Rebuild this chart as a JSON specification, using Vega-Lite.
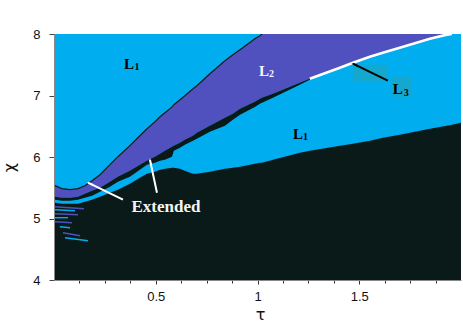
{
  "$schema": "https://vega.github.io/schema/vega-lite/v6.json",
  "width": 407,
  "height": 246,
  "autosize": "none",
  "padding": {"left": 54, "top": 34, "right": 2, "bottom": 43},
  "background": "white",
  "config": {
    "view": {"stroke": null, "fill": "#00AEEF"},
    "axis": {"grid": false, "labelFont": "Liberation Sans", "labelFontSize": 13, "labelColor": "#111111", "tickColor": "#444444", "domainColor": "#888888", "titleFont": "DejaVu Sans", "titleFontWeight": "normal", "titleFontSize": 16, "titleColor": "#111111"}
  },
  "datasets": {
    "curves": [
      {"x": 0, "t": 5.533, "b": 5.355, "d": 5.306, "e": 5.257},
      {"x": 0.005, "t": 5.533, "b": 5.355, "d": 5.306, "e": 5.257},
      {"x": 0.039, "t": 5.485, "b": 5.338, "d": 5.29, "e": 5.241},
      {"x": 0.079, "t": 5.468, "b": 5.338, "d": 5.29, "e": 5.241},
      {"x": 0.118, "t": 5.485, "b": 5.355, "d": 5.306, "e": 5.241},
      {"x": 0.152, "t": 5.533, "b": 5.403, "d": 5.338, "e": 5.273},
      {"x": 0.187, "t": 5.615, "b": 5.452, "d": 5.371, "e": 5.306},
      {"x": 0.226, "t": 5.712, "b": 5.501, "d": 5.436, "e": 5.355},
      {"x": 0.275, "t": 5.875, "b": 5.598, "d": 5.517, "e": 5.42},
      {"x": 0.314, "t": 6.005, "b": 5.68, "d": 5.598, "e": 5.468},
      {"x": 0.373, "t": 6.184, "b": 5.777, "d": 5.68, "e": 5.566},
      {"x": 0.422, "t": 6.346, "b": 5.875, "d": 5.794, "e": 5.664},
      {"x": 0.457, "t": 6.46, "b": 5.94, "d": 5.875, "e": 5.729},
      {"x": 0.496, "t": 6.574, "b": 6.005, "d": 5.907, "e": 5.761},
      {"x": 0.521, "t": 6.655, "b": 6.054, "d": 5.94, "e": 5.794},
      {"x": 0.545, "t": 6.72, "b": 6.102, "d": 5.956, "e": 5.81},
      {"x": 0.58, "t": 6.815, "b": 6.167, "d": 6.005, "e": 5.826},
      {"x": 0.589, "t": 6.85, "b": 6.184, "d": 6.102, "e": 5.826},
      {"x": 0.619, "t": 6.932, "b": 6.233, "d": 6.151, "e": 5.81},
      {"x": 0.643, "t": 6.997, "b": 6.282, "d": 6.2, "e": 5.777},
      {"x": 0.683, "t": 7.111, "b": 6.346, "d": 6.265, "e": 5.729},
      {"x": 0.702, "t": 7.159, "b": 6.395, "d": 6.298, "e": 5.729},
      {"x": 0.766, "t": 7.354, "b": 6.509, "d": 6.411, "e": 5.761},
      {"x": 0.84, "t": 7.566, "b": 6.639, "d": 6.509, "e": 5.81},
      {"x": 0.879, "t": 7.663, "b": 6.704, "d": 6.606, "e": 5.826},
      {"x": 0.914, "t": 7.745, "b": 6.785, "d": 6.688, "e": 5.842},
      {"x": 0.987, "t": 7.924, "b": 6.899, "d": 6.815, "e": 5.891},
      {"x": 1.012, "t": 7.972, "b": 6.948, "d": 6.867, "e": 5.907},
      {"x": 1.022, "t": 8, "b": 6.964, "d": 6.883, "e": 5.907},
      {"x": 1.076, "t": 8, "b": 7.029, "d": 6.964, "e": 5.956},
      {"x": 1.208, "t": 8, "b": 7.208, "d": 7.176, "e": 6.07},
      {"x": 1.257, "t": 8, "b": 7.273, "d": 7.257, "e": 6.102},
      {"x": 1.405, "t": 8, "b": 7.452, "d": null, "e": 6.184},
      {"x": 1.469, "t": 8, "b": 7.533, "d": null, "e": 6.216},
      {"x": 1.552, "t": 8, "b": 7.631, "d": null, "e": 6.265},
      {"x": 1.616, "t": 8, "b": 7.696, "d": null, "e": 6.314},
      {"x": 1.699, "t": 8, "b": 7.777, "d": null, "e": 6.363},
      {"x": 1.798, "t": 8, "b": 7.875, "d": null, "e": 6.428},
      {"x": 1.847, "t": 8, "b": 7.924, "d": null, "e": 6.46},
      {"x": 1.93, "t": 8, "b": 7.989, "d": null, "e": 6.509},
      {"x": 1.955, "t": 8, "b": 8, "d": null, "e": 6.525},
      {"x": 2, "t": null, "b": null, "d": null, "e": 6.558}
    ],
    "streaks": [
      {"s": "s1", "c": "purple", "x": 0.005, "y": 5.192}, {"s": "s1", "c": "purple", "x": 0.147, "y": 5.159},
      {"s": "s2", "c": "blue", "x": 0.005, "y": 5.143}, {"s": "s2", "c": "blue", "x": 0.103, "y": 5.127},
      {"s": "s3", "c": "purple", "x": 0.005, "y": 5.078}, {"s": "s3", "c": "purple", "x": 0.118, "y": 5.062},
      {"s": "s4", "c": "blue", "x": 0.005, "y": 5.013}, {"s": "s4", "c": "blue", "x": 0.069, "y": 5.013},
      {"s": "s5", "c": "purple", "x": 0.005, "y": 4.948}, {"s": "s5", "c": "purple", "x": 0.088, "y": 4.932},
      {"s": "s6", "c": "blue", "x": 0.029, "y": 4.867}, {"s": "s6", "c": "blue", "x": 0.079, "y": 4.85},
      {"s": "s7", "c": "purple", "x": 0.044, "y": 4.769}, {"s": "s7", "c": "purple", "x": 0.128, "y": 4.72},
      {"s": "s8", "c": "blue", "x": 0.054, "y": 4.688}, {"s": "s8", "c": "blue", "x": 0.167, "y": 4.639}
    ],
    "boxes": [
      {"x": 1.4686, "x2": 1.6405, "y": 7.501, "y2": 7.224},
      {"x": 1.66, "x2": 1.758, "y": 7.306, "y2": 6.98}
    ],
    "arrows": [
      {"a": "A1", "c": "light", "x": 0.3389, "y": 5.306}, {"a": "A1", "c": "light", "x": 0.167, "y": 5.582},
      {"a": "A2", "c": "light", "x": 0.5059, "y": 5.42}, {"a": "A2", "c": "light", "x": 0.4715, "y": 5.956},
      {"a": "A3", "c": "dark", "x": 1.6405, "y": 7.241}, {"a": "A3", "c": "dark", "x": 1.4686, "y": 7.517}
    ],
    "heads": [
      {"a": "A1", "x": 0.1803, "y": 5.561},
      {"a": "A2", "x": 0.4745, "y": 5.909},
      {"a": "A3", "x": 1.4818, "y": 7.496}
    ],
    "labels": [
      {"k": "L", "c": "dark", "t": "L", "x": 0.3438, "y": 7.436},
      {"k": "sub", "c": "dark", "t": "1", "x": 0.3959, "y": 7.411},
      {"k": "L", "c": "light", "t": "L", "x": 1.0069, "y": 7.322},
      {"k": "sub", "c": "light", "t": "2", "x": 1.056, "y": 7.298},
      {"k": "L", "c": "dark", "t": "L", "x": 1.1739, "y": 6.298},
      {"k": "sub", "c": "dark", "t": "1", "x": 1.223, "y": 6.273},
      {"k": "L", "c": "dark", "t": "L", "x": 1.665, "y": 7.029},
      {"k": "sub", "c": "dark", "t": "3", "x": 1.719, "y": 6.989},
      {"k": "word", "c": "light", "t": "Extended", "x": 0.5501, "y": 5.111}
    ]
  },
  "encoding": {
    "x": {"field": "x", "type": "quantitative", "scale": {"domain": [0, 2], "nice": false, "zero": false},
      "axis": {"values": [0.125, 0.25, 0.375, 0.5, 0.625, 0.75, 0.875, 1, 1.125, 1.25, 1.375, 1.5, 1.625, 1.75, 1.875],
        "format": "~g",
        "labelOpacity": {"condition": {"test": "(datum.value * 2) % 1 === 0", "value": 1}, "value": 0},
        "tickSize": {"condition": {"test": "(datum.value * 2) % 1 === 0", "value": 4}, "value": 3},
        "tickColor": "#333333", "tickWidth": 1,
        "labelPadding": 6, "labelOverlap": false, "labelFlush": false, "labelColor": "#111111", "zindex": 1,
        "title": "τ", "titleX": 206, "titleY": 39, "titleBaseline": "alphabetic", "titleAlign": "center"}}
  },
  "layer": [
    {
      "data": {"name": "curves"},
      "mark": {"type": "area", "color": "#5050BE", "clip": true},
      "encoding": {
        "y": {"field": "t", "type": "quantitative", "scale": {"domain": [4, 8], "nice": false, "zero": false},
          "axis": {"values": [4, 4.25, 4.5, 4.75, 5, 5.25, 5.5, 5.75, 6, 6.25, 6.5, 6.75, 7, 7.25, 7.5, 7.75, 8],
            "labelExpr": "datum.value % 1 === 0 ? format(datum.value, 'd') : ''",
            "tickSize": {"condition": {"test": "datum.value % 1 === 0", "value": 5}, "value": 2.5},
            "labelOverlap": false, "labelFlush": false, "zindex": 1,
            "labelPadding": 9, "title": "χ", "titleX": -45, "titleY": 133, "titleAngle": -90, "titleAlign": "center", "titleBaseline": "middle"}},
        "y2": {"field": "b"}
      }
    },
    {
      "data": {"name": "curves"},
      "mark": {"type": "area", "color": "#0A1A18", "clip": true},
      "encoding": {
        "y": {"field": "b", "type": "quantitative"},
        "y2": {"field": "d"}
      }
    },
    {
      "data": {"name": "curves"},
      "transform": [{"filter": "datum.x <= 1.022"}],
      "mark": {"type": "line", "color": "#0A1A18", "strokeWidth": 1.2, "clip": true},
      "encoding": {
        "y": {"field": "t", "type": "quantitative"}
      }
    },
    {
      "data": {"name": "curves"},
      "mark": {"type": "area", "color": "#0A1A18", "clip": true},
      "encoding": {
        "y": {"field": "e", "type": "quantitative"},
        "y2": {"datum": 4}
      }
    },
    {
      "data": {"name": "streaks"},
      "transform": [{"filter": "datum.c == 'purple'"}],
      "mark": {"type": "line", "color": "#5050BE", "strokeWidth": 1.6, "clip": true},
      "encoding": {
        "y": {"field": "y", "type": "quantitative"},
        "detail": {"field": "s"}
      }
    },
    {
      "data": {"name": "streaks"},
      "transform": [{"filter": "datum.c == 'blue'"}],
      "mark": {"type": "line", "color": "#00AEEF", "strokeWidth": 1.4, "clip": true},
      "encoding": {
        "y": {"field": "y", "type": "quantitative"},
        "detail": {"field": "s"}
      }
    },
    {
      "data": {"name": "curves"},
      "transform": [{"filter": "datum.x >= 1.257 && datum.x <= 1.955"}],
      "mark": {"type": "line", "color": "#FFFFFF", "strokeWidth": 2.6, "clip": true},
      "encoding": {
        "y": {"field": "b", "type": "quantitative"}
      }
    },
    {
      "data": {"name": "boxes"},
      "mark": {"type": "rect", "color": "#14A8CE"},
      "encoding": {
        "x2": {"field": "x2"},
        "y": {"field": "y", "type": "quantitative"},
        "y2": {"field": "y2"}
      }
    },
    {
      "data": {"name": "arrows"},
      "transform": [{"filter": "datum.c == 'light'"}],
      "mark": {"type": "line", "color": "#FFFFFF", "strokeWidth": 2},
      "encoding": {
        "y": {"field": "y", "type": "quantitative"},
        "detail": {"field": "a"}
      }
    },
    {
      "data": {"name": "arrows"},
      "transform": [{"filter": "datum.c == 'dark'"}],
      "mark": {"type": "line", "color": "#000000", "strokeWidth": 2},
      "encoding": {
        "y": {"field": "y", "type": "quantitative"},
        "detail": {"field": "a"}
      }
    },
    {
      "data": {"name": "heads"},
      "transform": [{"filter": "datum.a == 'A1'"}],
      "mark": {"type": "point", "shape": "wedge", "filled": true, "size": 70, "angle": 296, "color": "#FFFFFF", "opacity": 1},
      "encoding": {
        "y": {"field": "y", "type": "quantitative"}
      }
    },
    {
      "data": {"name": "heads"},
      "transform": [{"filter": "datum.a == 'A2'"}],
      "mark": {"type": "point", "shape": "wedge", "filled": true, "size": 70, "angle": 348, "color": "#FFFFFF", "opacity": 1},
      "encoding": {
        "y": {"field": "y", "type": "quantitative"}
      }
    },
    {
      "data": {"name": "heads"},
      "transform": [{"filter": "datum.a == 'A3'"}],
      "mark": {"type": "point", "shape": "wedge", "filled": true, "size": 70, "angle": 296, "color": "#000000", "opacity": 1},
      "encoding": {
        "y": {"field": "y", "type": "quantitative"}
      }
    },
    {
      "data": {"name": "labels"},
      "transform": [{"filter": "datum.k == 'L' && datum.c == 'dark'"}],
      "mark": {"type": "text", "font": "Liberation Serif", "fontWeight": "bold", "fontSize": 15, "align": "left", "baseline": "alphabetic", "color": "#000000"},
      "encoding": {
        "y": {"field": "y", "type": "quantitative"},
        "text": {"field": "t"}
      }
    },
    {
      "data": {"name": "labels"},
      "transform": [{"filter": "datum.k == 'sub' && datum.c == 'dark'"}],
      "mark": {"type": "text", "font": "Liberation Serif", "fontWeight": "bold", "fontSize": 10, "align": "left", "baseline": "alphabetic", "color": "#000000"},
      "encoding": {
        "y": {"field": "y", "type": "quantitative"},
        "text": {"field": "t"}
      }
    },
    {
      "data": {"name": "labels"},
      "transform": [{"filter": "datum.k == 'L' && datum.c == 'light'"}],
      "mark": {"type": "text", "font": "Liberation Serif", "fontWeight": "bold", "fontSize": 15, "align": "left", "baseline": "alphabetic", "color": "#F4F4FF"},
      "encoding": {
        "y": {"field": "y", "type": "quantitative"},
        "text": {"field": "t"}
      }
    },
    {
      "data": {"name": "labels"},
      "transform": [{"filter": "datum.k == 'sub' && datum.c == 'light'"}],
      "mark": {"type": "text", "font": "Liberation Serif", "fontWeight": "bold", "fontSize": 10, "align": "left", "baseline": "alphabetic", "color": "#F4F4FF"},
      "encoding": {
        "y": {"field": "y", "type": "quantitative"},
        "text": {"field": "t"}
      }
    },
    {
      "data": {"name": "labels"},
      "transform": [{"filter": "datum.k == 'word'"}],
      "mark": {"type": "text", "font": "Liberation Serif", "fontWeight": "bold", "fontSize": 17, "align": "center", "baseline": "alphabetic", "color": "#F4F4F4"},
      "encoding": {
        "y": {"field": "y", "type": "quantitative"},
        "text": {"field": "t"}
      }
    }
  ]
}
